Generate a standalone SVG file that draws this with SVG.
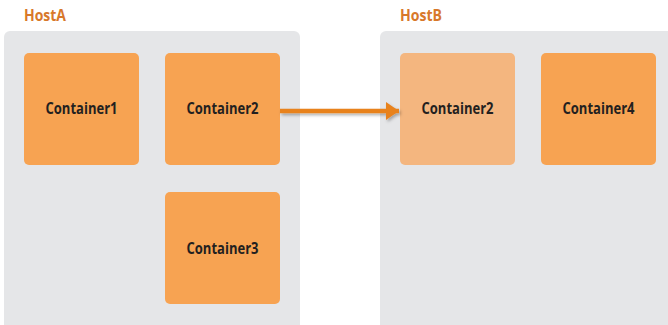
<svg xmlns="http://www.w3.org/2000/svg" width="668" height="325" viewBox="0 0 668 325">
  <defs>
    <style>
      .host { fill: #e5e6e8; }
      .hostlabel { font-family: "Open Sans", "Liberation Sans", sans-serif; font-weight: 700; font-size: 15.5px; fill: #d8782a; }
      .box { fill: #f7a352; }
      .box.ghost { fill: #f4b67f; }
      .label { font-family: "Open Sans", "Liberation Sans", sans-serif; font-weight: 700; font-size: 15.5px; fill: #231f20; text-anchor: middle; }
      .link { stroke: #e8821e; stroke-width: 4.5; fill: none; }
    </style>
    <marker id="head" viewBox="0 0 13 18" refX="13" refY="9" markerWidth="13" markerHeight="18" orient="auto" markerUnits="userSpaceOnUse">
      <path d="M0,0 L13,9 L0,18 z" fill="#e8821e"/>
    </marker>
    <filter id="shadow" filterUnits="userSpaceOnUse" x="270" y="95" width="145" height="35">
      <feDropShadow dx="1.5" dy="2" stdDeviation="1.5" flood-color="#000" flood-opacity="0.3"/>
    </filter>
  </defs>

  <g id="hostA">
    <text class="hostlabel" x="24" y="20.5" textLength="42" lengthAdjust="spacingAndGlyphs">HostA</text>
    <rect class="host" x="4" y="31" width="296" height="310" rx="6"/>
  </g>
  <g id="hostB">
    <text class="hostlabel" x="400" y="20.5" textLength="42" lengthAdjust="spacingAndGlyphs">HostB</text>
    <rect class="host" x="380" y="31" width="300" height="310" rx="6"/>
  </g>

  <g id="container1">
    <rect class="box" x="24" y="53" width="115" height="112" rx="5"/>
    <text class="label" x="81.5" y="114" textLength="72" lengthAdjust="spacingAndGlyphs">Container1</text>
  </g>
  <g id="container2">
    <rect class="box" x="165" y="53" width="115" height="112" rx="5"/>
    <text class="label" x="222.5" y="114" textLength="72" lengthAdjust="spacingAndGlyphs">Container2</text>
  </g>
  <g id="container3">
    <rect class="box" x="165" y="192" width="115" height="112" rx="5"/>
    <text class="label" x="222.5" y="253.5" textLength="72" lengthAdjust="spacingAndGlyphs">Container3</text>
  </g>
  <g id="container2-moved">
    <rect class="box ghost" x="400" y="53" width="115" height="112" rx="5"/>
    <text class="label" x="457.5" y="114" textLength="72" lengthAdjust="spacingAndGlyphs">Container2</text>
  </g>
  <g id="container4">
    <rect class="box" x="541" y="53" width="115" height="112" rx="5"/>
    <text class="label" x="598.5" y="114" textLength="72" lengthAdjust="spacingAndGlyphs">Container4</text>
  </g>

  <g id="connectors">
    <line class="link" x1="280" y1="111" x2="399" y2="111" marker-end="url(#head)" filter="url(#shadow)"/>
  </g>
</svg>
